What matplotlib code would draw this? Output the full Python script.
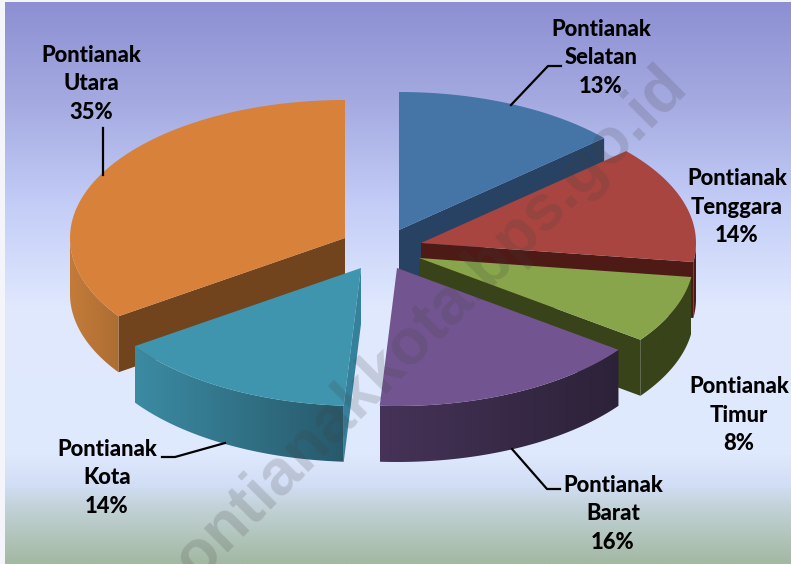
import numpy as np
import matplotlib
matplotlib.use('Agg')
import matplotlib.pyplot as plt
from matplotlib.colors import LinearSegmentedColormap
from matplotlib.patches import Polygon

# data
names = ['Selatan', 'Tenggara', 'Timur', 'Barat', 'Kota', 'Utara']
shares = [13.4, 13.8, 7.9, 15.9, 14.4, 34.6]

# style
top_colors = ['#4574a7', '#a84541', '#88a54b', '#725590', '#3f94ae', '#d8813b']
radial_colors = ['#274262', '#4e1a15', '#384319', None, None, '#72441d']
rim_start = ['#274262', '#4e1a15', '#384319', '#2c2238', '#28596b', '#ac6e33']
rim_end = ['#274262', '#4e1a15', '#384319', '#463358', '#3b8ba3', '#c47b39']
explode_x = [21, 43, 41, 19, -17, -33]
explode_y = [-20, -7, 8, 18, 18, -12]
label_xy = [(601, 58), (737, 207), (739, 415), (613, 514), (107, 478), (91, 84)]
leaders = [
    [(511, 105), (548, 66), (561, 66)],
    [(512, 449), (547, 489), (560, 489)],
    [(225, 443), (175, 457), (162, 457)],
    [(103, 128), (103, 175)],
]

CX, CY = 378, 250
RX, RY = 275, 138
DEPTH = 56

plt.rcParams['font.family'] = ['Lato', 'DejaVu Sans']

fig = plt.figure(figsize=(7.91, 5.64), dpi=100, facecolor='#f4f5fb')
ax = fig.add_axes([0, 0, 1, 1])
ax.axis('off')

# background
bg = LinearSegmentedColormap.from_list('bg', [
    (0.0, '#8d8fd2'), (0.18, '#a5abe1'), (0.36, '#c3cdf7'), (0.54, '#dfe8fd'),
    (0.80, '#e0eafe'), (0.86, '#d2def6'), (0.90, '#c2d2d8'), (1.0, '#a3b9a2')])
ax.imshow(np.linspace(0, 1, 256).reshape(-1, 1), cmap=bg, aspect='auto',
          extent=(5, 791, 564, 2), zorder=0)


def rim_point(ox, oy, t):
    return ox + RX * np.sin(t), oy - RY * np.cos(t)


# slice angles, clockwise from 12 o'clock
edges = np.radians(np.cumsum([0] + shares) * 3.6)

draw_order = [0, 1, 2, 5, 3, 4]
for z, i in enumerate(draw_order):
    ox, oy = CX + explode_x[i], CY + explode_y[i]
    t0, t1 = edges[i], edges[i + 1]
    zo = 2 + z

    # flat wall along the radial edge facing the viewer
    if radial_colors[i]:
        t_face = t0 if i == 5 else t1
        px, py = rim_point(ox, oy, t_face)
        ax.fill([ox, px, px, ox], [oy, py, py + DEPTH, oy + DEPTH],
                color=radial_colors[i], lw=0, zorder=zo)

    # curved outer wall, only the front half shows
    lo, hi = max(t0, np.pi / 2), min(t1, 3 * np.pi / 2)
    if lo < hi:
        ts = np.linspace(lo, hi, 60)
        rx, ry = rim_point(ox, oy, ts)
        poly = np.r_[np.c_[rx, ry], np.c_[rx, ry + DEPTH][::-1]]
        shade = LinearSegmentedColormap.from_list('s', [rim_end[i], rim_start[i]])
        im = ax.imshow(np.linspace(0, 1, 128).reshape(1, -1), cmap=shade, aspect='auto',
                       extent=(rx.min(), rx.max(), poly[:, 1].max(), poly[:, 1].min()),
                       zorder=zo)
        im.set_clip_path(Polygon(poly, transform=ax.transData))

    # Kota shows its cut face on the right side
    if i == 4:
        px, py = rim_point(ox, oy, t0)
        ax.fill([ox, ox, px, px], [oy, oy + DEPTH, py + DEPTH, py],
                color='#35809a', lw=0, zorder=zo)

    # top face
    ts = np.linspace(t0, t1, 80)
    xs, ys = rim_point(ox, oy, ts)
    ax.fill(np.r_[ox, xs], np.r_[oy, ys], color=top_colors[i], lw=0, zorder=zo)

ax.set_xlim(0, 791)
ax.set_ylim(564, 0)

# watermark
ax.text(170, 607, 'pontianakkota.bps.go.id', family='Liberation Sans', fontsize=46,
        fontweight='bold', color='#404040', alpha=0.18, rotation=45,
        rotation_mode='anchor', ha='left', va='baseline', zorder=20, clip_on=True)

# leader lines
for pts in leaders:
    ax.plot([p[0] for p in pts], [p[1] for p in pts], color='black', lw=1.6,
            solid_joinstyle='round', zorder=21)

# labels
for name, share, (lx, ly) in zip(names, shares, label_xy):
    ax.text(lx, ly, f'Pontianak\n{name}\n{round(share)}%', ha='center', va='center',
            fontsize=15.8, fontweight=900, color='black', linespacing=1.42,
            zorder=22)

fig.savefig('out.png', dpi=100)
